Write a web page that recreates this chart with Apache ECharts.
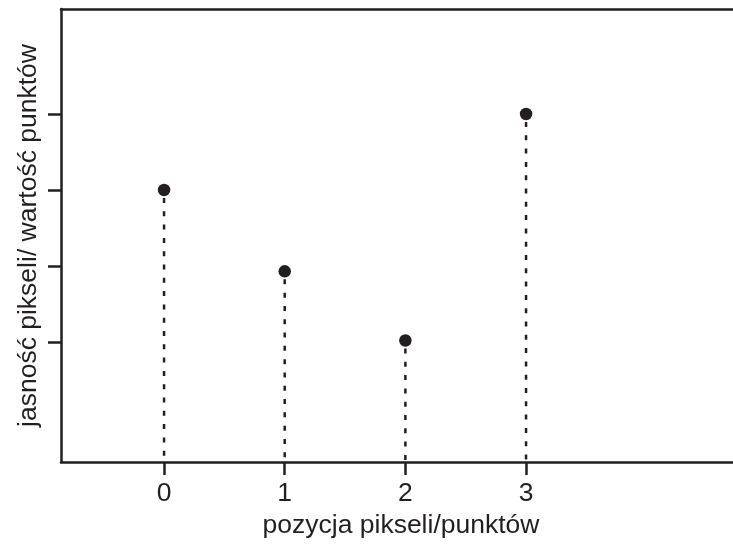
<!DOCTYPE html>
<html>
<head>
<meta charset="utf-8">
<script src="https://cdn.jsdelivr.net/npm/echarts@6/dist/echarts.min.js"></script>
<style>html,body{margin:0;padding:0;background:#fff;}#c{width:733px;height:545px;}</style>
</head>
<body>
<div id="c"></div>
<script>
const positions = [0, 1, 2, 3];
const values = [3.0, 1.93, 1.02, 4.0];
const xTickLabels = [0, 1, 2, 3];
const yTicks = [1, 2, 3, 4];
const xName = 'pozycja pikseli/punktów';
const yName = 'jasność pikseli/ wartość punktów';

const INK = '#231f20';
const FONT = '"Liberation Sans", Arial, Helvetica, sans-serif';
const FS = 26.5;
const xMin = -0.854, xMax = 4.715, yMin = -0.579, yMax = 5.382;

const chart = echarts.init(document.getElementById('c'), null, {renderer: 'canvas'});
const pts = positions.map((p, i) => [p, values[i]]);

chart.setOption({
  animation: false,
  backgroundColor: '#fff',
  grid: {left: 61, right: 0, top: 9, bottom: 83, containLabel: false},
  xAxis: [{
    type: 'value', position: 'bottom', min: xMin, max: xMax,
    splitLine: {show: false},
    axisLine: {show: true, onZero: false, lineStyle: {color: INK, width: 2.5}},
    axisTick: {show: true, inside: false, length: 13, lineStyle: {color: INK, width: 2.5}, customValues: xTickLabels},
    axisLabel: {show: true, customValues: xTickLabels, color: INK, fontFamily: FONT, fontSize: FS, margin: 18},
    name: xName, nameLocation: 'middle', nameGap: 47,
    nameTextStyle: {color: INK, fontFamily: FONT, fontSize: FS, padding: [0, 0, 0, 8]}
  }, {
    type: 'value', position: 'top', min: xMin, max: xMax,
    splitLine: {show: false},
    axisLine: {show: true, onZero: false, lineStyle: {color: INK, width: 2.5}},
    axisTick: {show: false}, axisLabel: {show: false}
  }],
  yAxis: [{
    type: 'value', min: yMin, max: yMax,
    splitLine: {show: false},
    axisLine: {show: true, onZero: false, lineStyle: {color: INK, width: 2.5}},
    axisTick: {show: true, inside: false, length: 13, lineStyle: {color: INK, width: 2.5}, customValues: yTicks},
    axisLabel: {show: false},
    name: yName, nameLocation: 'middle', nameGap: 19, nameRotate: 90,
    nameTextStyle: {color: INK, fontFamily: FONT, fontSize: FS}
  }],
  series: [{
    type: 'custom',
    data: pts,
    clip: true,
    renderItem: function (params, api) {
      const top = api.coord([api.value(0), api.value(1)]);
      const bot = api.coord([api.value(0), yMin]);
      return {
        type: 'line',
        shape: {x1: top[0], y1: top[1] + 8, x2: bot[0], y2: bot[1]},
        style: {stroke: INK, lineWidth: 2.5, lineDash: [5, 8.3]}
      };
    },
    z: 1
  }, {
    type: 'scatter',
    data: pts,
    symbol: 'circle',
    symbolSize: 12.5,
    itemStyle: {color: INK, opacity: 1},
    z: 3
  }]
});
</script>
</body>
</html>
